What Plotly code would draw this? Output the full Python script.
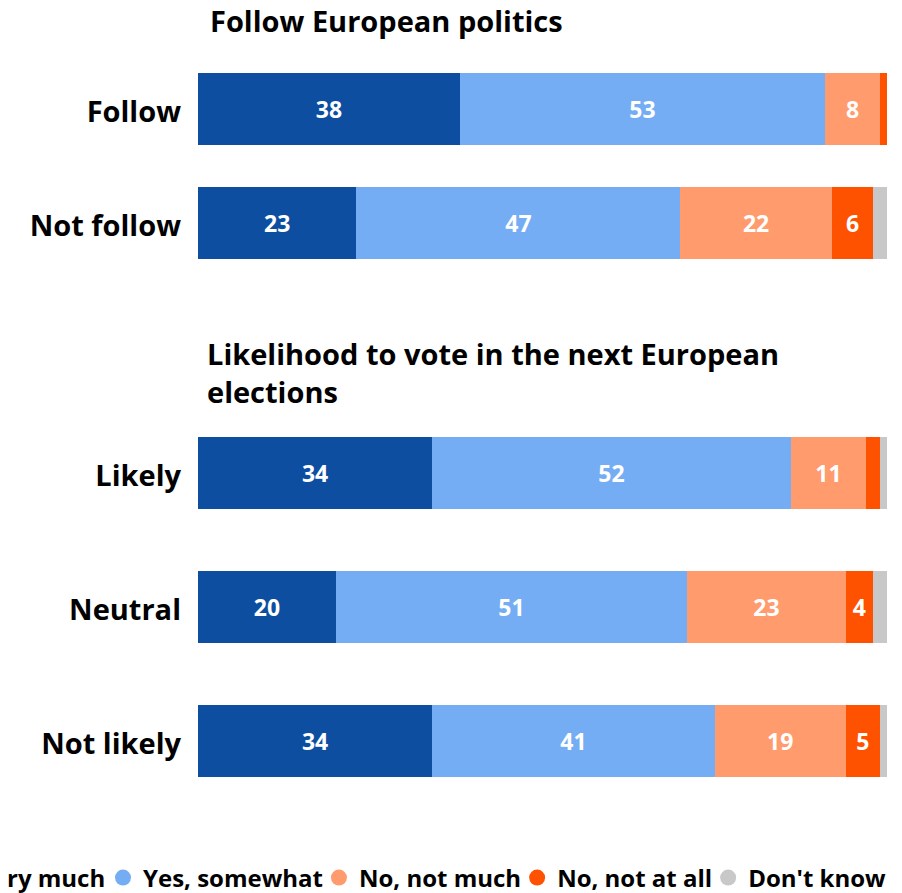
import plotly.graph_objects as go

# ---- data ----
series_names = ["Yes, very much", "Yes, somewhat", "No, not much", "No, not at all", "Don't know"]
series_colors = ["#0d4ea1", "#74adf3", "#ff9b6c", "#ff5200", "#c8c8c8"]

follow_categories = ["Follow", "Not follow"]
follow_very_much = [38, 23]
follow_somewhat = [53, 47]
follow_not_much = [8, 22]
follow_not_at_all = [1, 6]
follow_dont_know = [0, 2]

vote_categories = ["Likely", "Neutral", "Not likely"]
vote_very_much = [34, 20, 34]
vote_somewhat = [52, 51, 41]
vote_not_much = [11, 23, 19]
vote_not_at_all = [2, 4, 5]
vote_dont_know = [1, 2, 1]

title_follow = "Follow European politics"
title_vote = "Likelihood to vote in the next European<br>elections"

FONT = "Open Sans"
W, H = 894, 885   # page body adds an 8px margin
OFF = 8

follow_series = [follow_very_much, follow_somewhat, follow_not_much, follow_not_at_all, follow_dont_know]
vote_series = [vote_very_much, vote_somewhat, vote_not_much, vote_not_at_all, vote_dont_know]


def px_x(v):
    return (v - OFF) / W


def px_y(v):
    return 1 - (v - OFF) / H


def labels(vals):
    return [str(v) if v >= 4 else "" for v in vals]


fig = go.Figure()

for name, color, vals in zip(series_names, series_colors, follow_series):
    fig.add_trace(go.Bar(
        x=vals, y=follow_categories, orientation="h", name=name,
        marker=dict(color=color, line=dict(width=0)),
        width=72 / 114,
        text=labels(vals), textposition="inside", insidetextanchor="middle",
        textfont=dict(family=FONT, size=23, color="white", weight="bold"),
        constraintext="none", showlegend=False, hoverinfo="x+y+name",
        xaxis="x", yaxis="y",
    ))

for name, color, vals in zip(series_names, series_colors, vote_series):
    fig.add_trace(go.Bar(
        x=vals, y=vote_categories, orientation="h", name=name,
        marker=dict(color=color, line=dict(width=0)),
        width=72 / 134,
        text=labels(vals), textposition="inside", insidetextanchor="middle",
        textfont=dict(family=FONT, size=23, color="white", weight="bold"),
        constraintext="none", showlegend=False, hoverinfo="x+y+name",
        xaxis="x2", yaxis="y2",
    ))

# legend entries (circle markers)
for i, (name, color) in enumerate(zip(series_names, series_colors)):
    fig.add_trace(go.Scatter(
        x=[None], y=[None], mode="markers", name=name,
        marker=dict(color=color, size=16, symbol="circle"),
        legend="legend" if i == 0 else "legend2",
        xaxis="x", yaxis="y", hoverinfo="skip",
    ))

x_dom = [px_x(198), px_x(887)]
axis_x = dict(range=[0, 100], domain=x_dom, showgrid=False, zeroline=False,
              showticklabels=False, showline=False, fixedrange=True)
axis_y_common = dict(showgrid=False, zeroline=False, showline=False, ticks="",
                     tickfont=dict(family=FONT, size=29, color="#000000", weight="bold"),
                     ticklabelstandoff=16, ticklabelshift=-3, automargin=False, fixedrange=True)

legend_font = dict(family=FONT, size=24, color="#000000", weight="bold")
legend_common = dict(orientation="h", y=px_y(878), yanchor="middle", xanchor="left",
                     font=legend_font, bgcolor="rgba(0,0,0,0)", indentation=-9,
                     itemclick=False, itemdoubleclick=False)

fig.update_layout(
    width=W, height=H,
    margin=dict(l=0, r=0, t=0, b=0, autoexpand=False),
    paper_bgcolor="white", plot_bgcolor="white",
    barmode="stack",
    xaxis=dict(axis_x, anchor="y"),
    xaxis2=dict(axis_x, anchor="y2"),
    yaxis=dict(axis_y_common, domain=[px_y(280), px_y(52)],
               range=[len(follow_categories) - 0.5, -0.5], anchor="x",
               categoryorder="array", categoryarray=follow_categories),
    yaxis2=dict(axis_y_common, domain=[px_y(808), px_y(406)],
                range=[len(vote_categories) - 0.5, -0.5], anchor="x2",
                categoryorder="array", categoryarray=vote_categories),
    legend=dict(legend_common, x=px_x(-106)),
    legend2=dict(legend_common, x=px_x(112)),
    annotations=[
        dict(text=title_follow, xref="paper", yref="paper", x=px_x(208), y=px_y(20),
             xanchor="left", yanchor="middle", showarrow=False, align="left",
             font=dict(family=FONT, size=29, color="#000000", weight="bold")),
        dict(text=title_vote, xref="paper", yref="paper", x=px_x(205), y=px_y(372),
             xanchor="left", yanchor="middle", showarrow=False, align="left",
             font=dict(family=FONT, size=29, color="#000000", weight="bold")),
    ],
    showlegend=True,
)

fig.write_html("out.html")
